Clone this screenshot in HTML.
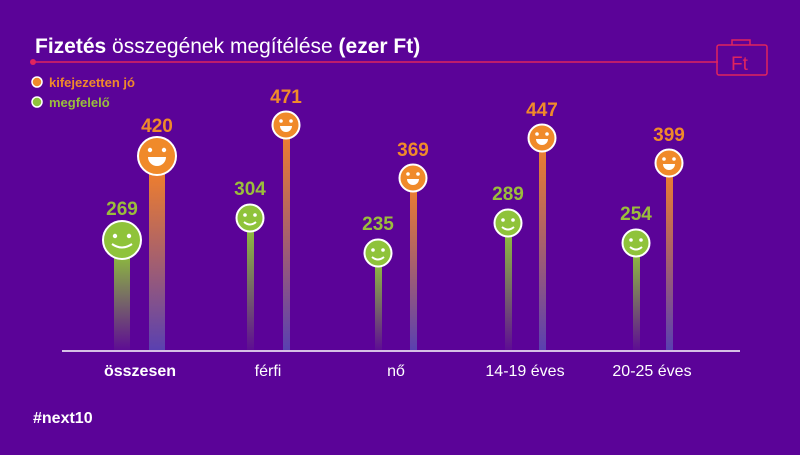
<!DOCTYPE html>
<html><head><meta charset="utf-8"><style>
body{margin:0;width:800px;height:450px;background:#5b0398;overflow:hidden;font-family:"Liberation Sans",sans-serif}
</style></head><body>
<svg width="800" height="450" viewBox="0 0 800 450" xmlns="http://www.w3.org/2000/svg">
<defs>
<linearGradient id="g" x1="0" y1="0" x2="0" y2="1"><stop offset="0" stop-color="#8fc33a"/><stop offset="1" stop-color="#8fc33a" stop-opacity="0.05"/></linearGradient>
<linearGradient id="o" x1="0" y1="0" x2="0" y2="1"><stop offset="0" stop-color="#f07f2c"/><stop offset="1" stop-color="#5a40b0"/></linearGradient>
<g id="sm"><circle r="1" fill="inherit"/></g>
</defs>
<text x="35" y="53" font-size="21" fill="#fff"><tspan font-weight="bold">Fizetés</tspan> összegének megítélése <tspan font-weight="bold">(ezer Ft)</tspan></text>
<line x1="33" y1="62" x2="718" y2="62" stroke="#e0245e" stroke-width="1.5"/>
<circle cx="33" cy="62" r="3" fill="#e0245e"/>
<g fill="none" stroke="#e0245e" stroke-width="1.5"><rect x="717" y="45" width="50" height="30" rx="2"/><path d="M732 45v-5h18v5"/></g>
<text x="731" y="70" font-size="19" fill="#e0245e">Ft</text>
<circle cx="37" cy="82" r="5" fill="#f08a2a" stroke="#fff" stroke-width="1.5"/>
<text x="49" y="87" font-size="13" font-weight="bold" fill="#f08a2a">kifejezetten jó</text>
<circle cx="37" cy="102" r="5" fill="#8fc33a" stroke="#fff" stroke-width="1.5"/>
<text x="49" y="107" font-size="13" font-weight="bold" fill="#9bbd3c">megfelelő</text>
<line x1="62" y1="351" x2="740" y2="351" stroke="#fff" stroke-width="1.5"/>
<g font-size="16" fill="#fff" text-anchor="middle">
<text x="140" y="376" font-weight="bold">összesen</text><text x="268" y="376">férfi</text><text x="396" y="376">nő</text><text x="525" y="376">14-19 éves</text><text x="652" y="376">20-25 éves</text>
</g>
<g font-size="19" font-weight="bold" text-anchor="middle">
<!-- összesen -->
<rect x="114" y="250" width="16" height="100" fill="url(#g)"/>
<rect x="149" y="170" width="16" height="180" fill="url(#o)"/>
<!-- others -->
<rect x="247" y="225" width="7" height="125" fill="url(#g)"/>
<rect x="283" y="130" width="7" height="220" fill="url(#o)"/>
<rect x="375" y="260" width="7" height="90" fill="url(#g)"/>
<rect x="410" y="183" width="7" height="167" fill="url(#o)"/>
<rect x="505" y="230" width="7" height="120" fill="url(#g)"/>
<rect x="539" y="143" width="7" height="207" fill="url(#o)"/>
<rect x="633" y="250" width="7" height="100" fill="url(#g)"/>
<rect x="666" y="168" width="7" height="182" fill="url(#o)"/>
<g stroke="#fff" stroke-width="2">
<circle cx="122" cy="240" r="19" fill="#8fc33a"/><circle cx="157" cy="156" r="19" fill="#f08a2a"/>
<circle cx="250" cy="218" r="13.5" fill="#8fc33a"/><circle cx="286" cy="125" r="13.5" fill="#f08a2a"/>
<circle cx="378" cy="253" r="13.5" fill="#8fc33a"/><circle cx="413" cy="178" r="13.5" fill="#f08a2a"/>
<circle cx="508" cy="223" r="13.5" fill="#8fc33a"/><circle cx="542" cy="138" r="13.5" fill="#f08a2a"/>
<circle cx="636" cy="243" r="13.5" fill="#8fc33a"/><circle cx="669" cy="163" r="13.5" fill="#f08a2a"/>
</g>
<g fill="#fff">
<circle cx="115" cy="236" r="2.2"/><circle cx="129" cy="236" r="2.2"/>
<circle cx="150" cy="150" r="2.2"/><circle cx="164" cy="150" r="2.2"/>
<circle cx="245" cy="215" r="1.8"/><circle cx="255" cy="215" r="1.8"/><circle cx="281" cy="121" r="1.8"/><circle cx="291" cy="121" r="1.8"/>
<circle cx="373" cy="250" r="1.8"/><circle cx="383" cy="250" r="1.8"/><circle cx="408" cy="174" r="1.8"/><circle cx="418" cy="174" r="1.8"/>
<circle cx="503" cy="220" r="1.8"/><circle cx="513" cy="220" r="1.8"/><circle cx="537" cy="134" r="1.8"/><circle cx="547" cy="134" r="1.8"/>
<circle cx="631" cy="240" r="1.8"/><circle cx="641" cy="240" r="1.8"/><circle cx="664" cy="159" r="1.8"/><circle cx="674" cy="159" r="1.8"/>
<path d="M148 157h18a9 9 0 0 1-18 0z"/><path d="M280 126h12a6 6 0 0 1-12 0z"/><path d="M407 179h12a6 6 0 0 1-12 0z"/><path d="M536 139h12a6 6 0 0 1-12 0z"/><path d="M663 164h12a6 6 0 0 1-12 0z"/>
</g>
<g fill="none" stroke="#fff" stroke-width="2">
<path d="M112 244q10 7 20 0"/><path d="M244 222q6 5 12 0"/><path d="M372 257q6 5 12 0"/><path d="M502 227q6 5 12 0"/><path d="M630 247q6 5 12 0"/>
</g>
<g fill="#9bbd3c"><text x="122" y="215">269</text><text x="250" y="195">304</text><text x="378" y="230">235</text><text x="508" y="200">289</text><text x="636" y="220">254</text></g>
<g fill="#f08a2a"><text x="157" y="132">420</text><text x="286" y="103">471</text><text x="413" y="156">369</text><text x="542" y="116">447</text><text x="669" y="141">399</text></g>
</g>
<text x="33" y="423" font-size="16" font-weight="bold" fill="#fff">#next10</text>
</svg>
</body></html>
